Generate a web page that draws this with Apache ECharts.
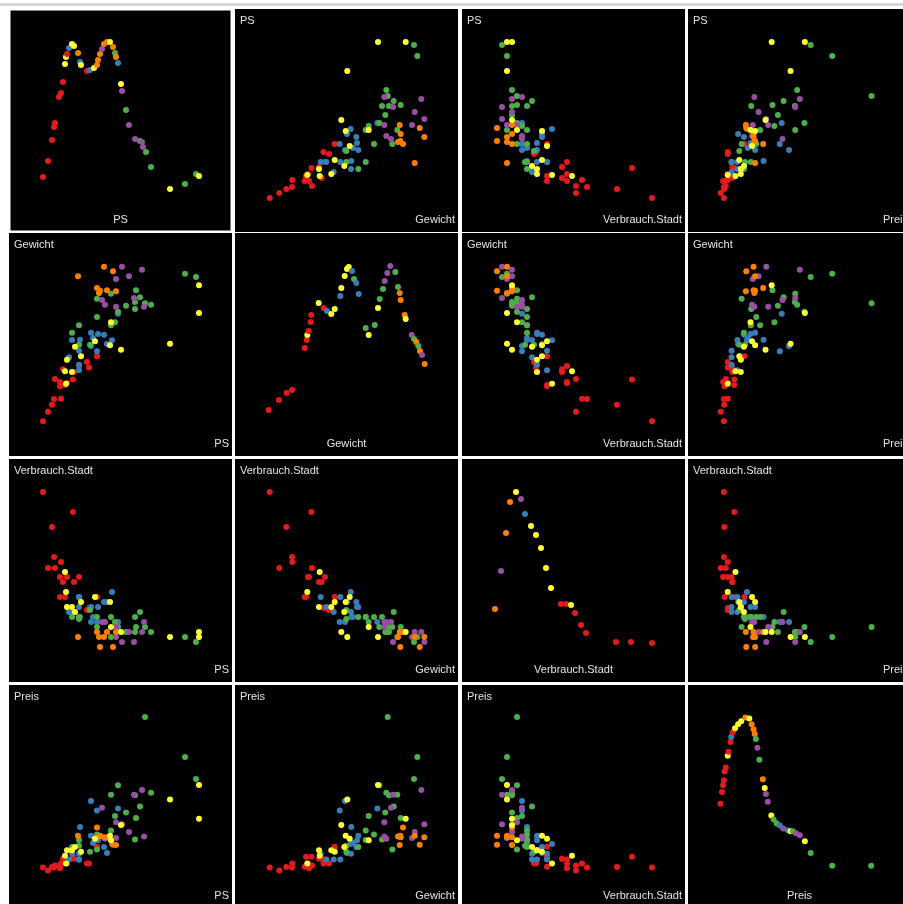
<!DOCTYPE html>
<html>
<head>
<meta charset="utf-8">
<script src="https://cdn.jsdelivr.net/npm/echarts@6/dist/echarts.min.js"></script>
<style>
  html, body { margin: 0; padding: 0; background: #ffffff; }
  #chart { width: 903px; height: 904px; }
</style>
</head>
<body>
<div id="chart"></div>
<script>
// Merkmale der Streudiagramm-Matrix (Reihenfolge = Zeilen/Spalten)
const variablen = ['PS', 'Gewicht', 'Verbrauch.Stadt', 'Preis'];

// Klassenfarben: 0 rot, 1 blau, 2 grün, 3 lila, 4 orange, 5 gelb
const klassenFarben = ['#e41a1c', '#377eb8', '#4daf4a', '#984ea3', '#ff7f00', '#ffff33'];

// Fahrzeugdaten (eine Position je Fahrzeug)
const klasse = [
  0,0,0,0,0,0,0,0,0,0,0,0,0,0,0,0,0,
  1,1,1,1,1,1,1,1,1,1,1,1,1,1,1,
  2,2,2,2,2,2,2,2,2,2,2,2,2,2,2,2,2,2,2,
  3,3,3,3,3,3,3,3,3,
  4,4,4,4,4,4,4,4,
  5,5,5,5,5,5,5,5,5,5,5,5,5
];
const ps = [
  44,49,53,55,56,61,61,62,64,68,74,75,80,88,90,98,66,
  119,98,92,81,113,108,105,99,92,80,80,80,70,73,94,
  73,80,80,91,98,98,112,116,119,127,136,136,137,141,146,152,186,197,112,
  123,143,130,117,103,106,117,135,145,
  105,114,79,98,101,100,108,117,
  67,66,73,68,76,82,96,111,122,112,171,200,200
];
const gewicht = [
  747,843,913,970,1170,1140,1097,973,1267,1130,1165,1240,1300,1340,1285,1397,1110,
  1823,1447,1500,1563,1557,1520,1613,1620,1633,1453,1313,1257,1387,1560,1580,
  1633,1707,1513,1513,1790,1973,2023,1737,1843,1903,1870,1940,2057,1987,1927,1913,2223,2190,1707,
  2293,2263,2197,2170,1960,1913,1893,1980,1893,
  2293,2247,2197,2080,2053,2030,2057,2047,
  1123,1247,1240,1363,1493,1397,1547,1507,1463,1737,1523,1830,2107
];
const verbrauchStadt = [
  19.0,11.4,15.5,12.5,11.4,10.5,8.5,12.0,10.0,10.5,17.0,10.0,10.5,7.2,7.4,8.5,8.5,
  6.0,6.0,6.0,6.5,9.0,8.0,8.0,7.5,7.5,8.5,7.5,8.5,7.0,7.0,6.5,
  6.5,6.5,6.3,7.2,6.5,5.5,4.5,6.0,5.5,5.0,6.5,5.0,5.5,7.0,5.5,5.0,4.5,4.0,6.5,
  4.0,5.0,5.0,4.5,6.0,6.0,5.5,4.0,6.0,
  4.5,3.5,4.5,5.0,3.5,4.5,5.0,5.0,
  9.0,11.0,7.5,7.5,7.0,8.0,8.5,8.0,5.0,5.5,4.5,4.5,5.0
];
const preis = [
  9.3,8.5,9.4,9.3,9.8,9.1,9.5,10.3,11.5,10.3,12.0,11.5,11.3,10.3,10.3,14.6,12.0,
  24.3,23.8,26.2,19.6,15.3,13.0,14.5,16.2,17.4,11.3,11.3,12.8,11.3,12.8,15.5,
  14.5,16.3,14.8,13.3,17.7,13.9,27.8,22.4,30.2,23.3,16.4,27.7,21.9,24.8,47.6,28.3,37.4,31.8,18.7,
  20.3,29.0,18.3,16.8,24.5,16.6,20.8,27.8,17.2,
  17.0,15.1,17.4,19.5,17.4,17.2,17.0,15.0,
  10.3,12.3,13.7,13.7,14.5,13.3,16.6,17.4,20.1,16.2,26.6,30.3,21.7
];

// Dichtekurven der Diagonale: [Wert, relative Dichte, Klasse]
const psDichte = [
  [44,55,0],[49,71,0],[53,92,0],[55,105,0],[56,109,0],[60,135,0],[62,139,0],[64,150,0],
  [66,168,5],[67,175,5],[68,178,0],[70,184,1],[73,188,5],[75,186,5],[79,179,4],[81,170,1],
  [82,167,5],[88,161,0],[91,162,1],[95,164,5],[98,167,4],[99,172,4],[101,178,4],[103,183,3],
  [105,188,4],[108,190,4],[111,190,5],[114,185,4],[116,179,2],[117,175,4],[119,169,1],
  [122,148,5],[123,141,3],[127,122,2],[130,107,3],[136,93,3],[141,91,2],[143,90,3],[144,85,3],
  [147,80,2],[152,65,2],[171,43,5],[186,48,2],[197,58,2],[200,56,5]
];
const gewichtDichte = [
  [737,46,0],[840,56,0],[917,63,0],[970,66,0],[1097,108,0],[1117,116,0],[1123,121,5],[1137,125,0],
  [1157,134,0],[1163,141,0],[1237,153,5],[1287,148,0],[1320,145,1],[1363,142,5],[1397,147,5],
  [1453,160,1],[1463,168,5],[1497,180,5],[1520,187,5],[1537,189,5],[1570,185,1],[1590,177,2],
  [1613,173,1],[1637,162,1],[1707,128,2],[1737,121,5],[1797,131,2],[1830,148,5],[1847,157,2],
  [1880,167,2],[1897,175,3],[1923,183,3],[1953,190,3],[2003,184,2],[2030,169,2],[2047,163,4],
  [2057,156,4],[2097,141,4],[2107,137,5],[2167,121,3],[2190,117,2],[2213,114,4],[2233,110,2],
  [2250,105,4],[2270,101,3],[2297,92,4]
];
const verbrauchDichte = [
  [3.3,73,4],[3.9,111,3],[4.4,149,4],[4.8,180,4],[5.4,190,5],[5.9,183,3],[6.3,168,1],[6.9,156,5],
  [7.4,147,5],[7.9,134,5],[8.4,114,5],[8.9,94,5],[9.9,78,0],[10.4,78,0],[10.9,77,5],[11.3,69,0],
  [11.9,57,0],[12.4,49,0],[15.4,40,0],[16.9,40,0],[19.0,39,0]
];
const preisDichte = [
  [8.4,102,0],[8.8,114,0],[9.1,121,0],[9.3,126,0],[9.5,135,0],[9.8,139,0],[10.3,151,5],[10.5,155,0],
  [11.0,165,0],[11.2,170,1],[11.6,175,0],[12.2,179,5],[13.0,183,5],[13.8,186,5],[14.9,190,4],
  [15.9,189,5],[16.5,183,4],[17.0,178,4],[17.3,173,4],[17.6,168,2],[18.0,159,3],[18.5,147,2],
  [19.4,127,4],[19.9,118,5],[20.2,112,3],[20.7,104,3],[21.6,90,5],[22.2,86,2],[23.0,82,2],
  [23.8,80,1],[24.7,77,3],[25.9,75,1],[26.6,74,5],[27.2,74,2],[28.0,72,3],[29.0,70,3],
  [30.3,64,5],[31.8,52,2],[37.4,39,2],[47.5,39,2]
];

const werte = [ps, gewicht, verbrauchStadt, preis];
const dichten = [psDichte, gewichtDichte, verbrauchDichte, preisDichte];
// Achsenbereiche je Merkmal (Daten liegen im mittleren Teil jeder Zelle)
const bereiche = [[10, 233], [400, 2630], [0, 22.3], [0, 55.75]];
const dichteBereich = [0, 223];

// Zellenraster
const spaltenLinks = [9, 235, 462, 688];
const zeilenOben = [9, 233, 459, 685];
const zelleB = 223, zelleH = 223;

const grids = [], xAxes = [], yAxes = [], series = [], texte = [];
const schrift = { fontFamily: '"Liberation Sans", Arial, sans-serif', fontSize: 11, fill: '#e4e4e4' };

let idx = 0;
for (let r = 0; r < 4; r++) {
  for (let c = 0; c < 4; c++) {
    const links = spaltenLinks[c], oben = zeilenOben[r];
    const aktiv = (r === 0 && c === 0);
    grids.push({
      left: links, top: oben, width: zelleB, height: zelleH,
      show: true, backgroundColor: '#000000',
      borderWidth: aktiv ? 3 : 0, borderColor: '#ffffff'
    });
    xAxes.push({ gridIndex: idx, type: 'value', min: bereiche[c][0], max: bereiche[c][1], show: false });
    const yb = (r === c) ? dichteBereich : bereiche[r];
    yAxes.push({ gridIndex: idx, type: 'value', min: yb[0], max: yb[1], show: false });

    let daten;
    if (r === c) {
      daten = dichten[r].map(d => [d[0], d[1], d[2]]);
    } else {
      daten = werte[c].map((v, i) => [v, werte[r][i], klasse[i]]);
    }
    series.push({
      type: 'scatter', xAxisIndex: idx, yAxisIndex: idx,
      symbol: 'circle', symbolSize: 6,
      data: daten,
      itemStyle: { color: p => klassenFarben[p.data[2]], opacity: 1 },
      emphasis: { disabled: true },
      silent: true
    });

    if (r === c) {
      texte.push({ type: 'text', x: links + zelleB / 2, y: oben + zelleH - 12,
        style: Object.assign({ text: variablen[r], textAlign: 'center', textVerticalAlign: 'middle' }, schrift) });
    } else {
      texte.push({ type: 'text', x: links + 5, y: oben + 12,
        style: Object.assign({ text: variablen[r], textAlign: 'left', textVerticalAlign: 'middle' }, schrift) });
      texte.push({ type: 'text', x: links + zelleB - 3, y: oben + zelleH - 12,
        style: Object.assign({ text: variablen[c], textAlign: 'right', textVerticalAlign: 'middle' }, schrift) });
    }
    idx++;
  }
}

// schmaler grauer Streifen am oberen Rand
texte.unshift({ type: 'rect', shape: { x: 0, y: 3, width: 903, height: 3 }, style: { fill: '#d9d9d9' }, silent: true });

const chart = echarts.init(document.getElementById('chart'), null, { renderer: 'canvas' });
chart.setOption({
  animation: false,
  backgroundColor: '#ffffff',
  grid: grids,
  xAxis: xAxes,
  yAxis: yAxes,
  series: series,
  graphic: texte
});
</script>
</body>
</html>
